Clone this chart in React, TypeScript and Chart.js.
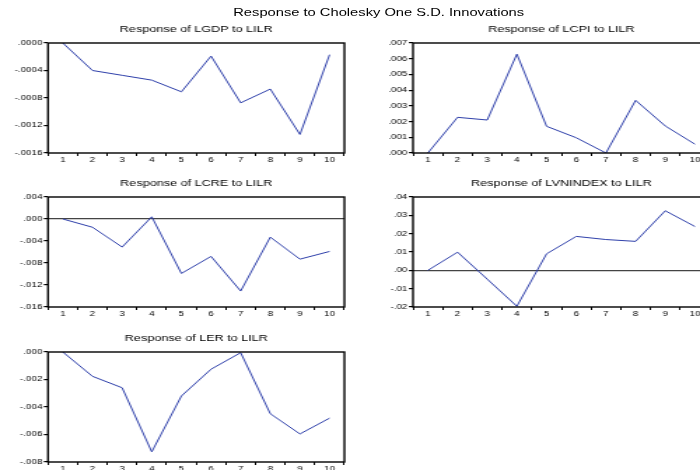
import React, { useEffect, useRef } from 'react';
import { Chart, registerables } from 'chart.js';

Chart.register(...registerables);

// ---- data ----
const periods = ['1', '2', '3', '4', '5', '6', '7', '8', '9', '10'];
const lgdp = [0, -0.0004, -0.00047, -0.00054, -0.00071, -0.00019, -0.00087, -0.00067, -0.00133, -0.00017];
const lcpi = [0, 0.00227, 0.0021, 0.00629, 0.0017, 0.00097, 0.0, 0.00335, 0.00172, 0.00056];
const lcre = [0, -0.0015, -0.0051, 0.0004, -0.0099, -0.0068, -0.0131, -0.0033, -0.0073, -0.0059];
const lvnindex = [0, 0.0099, -0.0048, -0.0196, 0.009, 0.0185, 0.0168, 0.0158, 0.0325, 0.0239];
const ler = [0, -0.00177, -0.0026, -0.00726, -0.0032, -0.00125, -0.00005, -0.00449, -0.00596, -0.00481];

const mainTitle = 'Response to Cholesky One S.D. Innovations';
const titles = [
  'Response of LGDP to LILR',
  'Response of LCPI to LILR',
  'Response of LCRE to LILR',
  'Response of LVNINDEX to LILR',
  'Response of LER to LILR',
];

const FONT = "'Liberation Sans', Arial, Helvetica, sans-serif";
const LINE = '#2f40aa';

function fmt(v: number, d: number): string {
  if (Math.abs(v) < 1e-12) v = 0;
  return v.toFixed(d).replace(/^(-?)0\./, '$1.');
}

const framePlugin = {
  id: 'frame',
  afterDatasetsDraw(chart: any) {
    const { ctx, chartArea: a } = chart;
    ctx.save();
    ctx.strokeStyle = '#000';
    ctx.lineWidth = 1.4;
    ctx.strokeRect(a.left, a.top, a.right - a.left, a.bottom - a.top);
    ctx.restore();
  },
};

type PanelProps = {
  title: string;
  values: number[];
  min: number;
  max: number;
  step: number;
  dec: number;
  zero: boolean;
  left: number;
  top: number;
  yWidth: number;
};

function Panel({ title, values, min, max, step, dec, zero, left, top, yWidth }: PanelProps) {
  const ref = useRef<HTMLCanvasElement>(null);
  useEffect(() => {
    const chart = new Chart(ref.current as HTMLCanvasElement, {
      type: 'line',
      data: {
        labels: periods,
        datasets: [
          {
            data: values,
            borderColor: LINE,
            borderWidth: 1,
            pointRadius: 0,
            fill: false,
            tension: 0,
          },
        ],
      },
      options: {
        responsive: false,
        animation: false,
        events: [],
        layout: { padding: { left: 0, right: 14, top: 0, bottom: 0 } },
        plugins: {
          legend: { display: false },
          tooltip: { enabled: false },
          title: {
            display: true,
            text: title,
            fullSize: false,
            color: '#000',
            font: { family: FONT, size: 9, weight: 'normal' },
            padding: { top: 6.6, bottom: 7.6 },
          },
        },
        scales: {
          x: {
            type: 'category',
            offset: true,
            grid: {
              offset: true,
              drawOnChartArea: false,
              drawTicks: true,
              tickLength: 3,
              color: '#000',
              lineWidth: 1,
            },
            border: { display: false },
            ticks: {
              font: { family: FONT, size: 7 },
              color: '#000',
              padding: 0,
              maxRotation: 0,
              autoSkip: false,
            },
            afterFit: (s: any) => {
              s.height = 16;
            },
          },
          y: {
            min,
            max,
            ticks: {
              stepSize: step,
              callback: (v: any) => fmt(Number(v), dec),
              font: { family: FONT, size: 7 },
              color: '#000',
              padding: 1,
            },
            grid: {
              drawOnChartArea: zero,
              color: (c: any) => (zero && c.tick && Math.abs(c.tick.value) < 1e-12 ? '#444' : 'rgba(0,0,0,0)'),
              tickColor: '#000',
              tickLength: 3,
              lineWidth: 1.2,
            },
            border: { display: false },
            afterFit: (s: any) => {
              s.width = yWidth;
            },
          },
        },
      } as any,
      plugins: [framePlugin],
    });
    return () => chart.destroy();
  }, []);
  return (
    <canvas
      ref={ref}
      width={260}
      height={151}
      style={{ position: 'absolute', left, top }}
    />
  );
}

export default function App() {
  return (
    <div
      style={{
        position: 'fixed',
        left: 0,
        top: 0,
        width: 700,
        height: 470,
        overflow: 'hidden',
        background: '#fff',
      }}
    >
      <div
        style={{
          position: 'absolute',
          left: 0,
          top: 0,
          width: 520,
          height: 470,
          transform: 'scaleX(1.4)',
          transformOrigin: '0 0',
        }}
      >
        <div
          style={{
            position: 'absolute',
            left: 0,
            top: 0,
            width: 541,
            height: 25,
            lineHeight: '25px',
            textAlign: 'center',
            fontFamily: FONT,
            fontSize: 10.5,
            color: '#000',
            whiteSpace: 'nowrap',
          }}
        >
          {mainTitle}
        </div>
        <Panel title={titles[0]} values={lgdp} min={-0.0016} max={0} step={0.0004} dec={4} zero={false} left={0} top={18} yWidth={34.3} />
        <Panel title={titles[1]} values={lcpi} min={0} max={0.007} step={0.001} dec={3} zero={false} left={261} top={18} yWidth={34} />
        <Panel title={titles[2]} values={lcre} min={-0.016} max={0.004} step={0.004} dec={3} zero={true} left={0} top={172} yWidth={34.3} />
        <Panel title={titles[3]} values={lvnindex} min={-0.02} max={0.04} step={0.01} dec={2} zero={true} left={261} top={172} yWidth={34} />
        <Panel title={titles[4]} values={ler} min={-0.008} max={0} step={0.002} dec={3} zero={false} left={0} top={327} yWidth={34.3} />
      </div>
    </div>
  );
}
